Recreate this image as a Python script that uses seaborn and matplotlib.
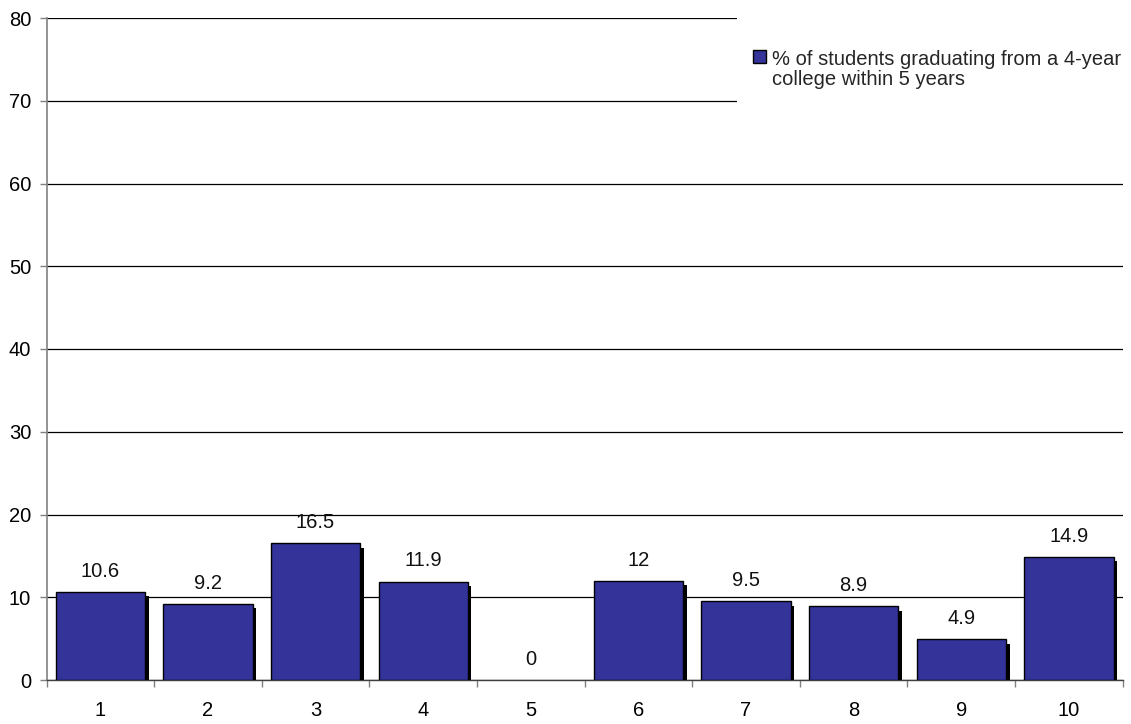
import numpy as np
import matplotlib
matplotlib.use("Agg")
import matplotlib.pyplot as plt
import matplotlib.patheffects as pe
from matplotlib.patches import Patch, Rectangle
from matplotlib.legend_handler import HandlerPatch
import seaborn as sns
import pandas as pd

# Data
categories = ["1", "2", "3", "4", "5", "6", "7", "8", "9", "10"]
values = [10.6, 9.2, 16.5, 11.9, 0, 12, 9.5, 8.9, 4.9, 14.9]
series_label = "% of students graduating from a 4-year\ncollege within 5 years"
y_ticks = [0, 10, 20, 30, 40, 50, 60, 70, 80]

sns.set_theme(style="white")
plt.rcParams["font.family"] = ["Liberation Sans", "DejaVu Sans"]

BAR = "#333399"
FS = 14.5

fig = plt.figure(figsize=(11.31, 7.24), dpi=100)
ax = fig.add_axes([46.5 / 1131, 1 - 680 / 724, (1122.7 - 46.5) / 1131, (680 - 18) / 724])

df = pd.DataFrame({"cat": categories, "val": values})
sns.barplot(data=df, x="cat", y="val", color=BAR, saturation=1, width=0.83,
            edgecolor="black", linewidth=1.0, ax=ax, zorder=3)

# drop shadow on every bar; empty bars get no outline
for bar, v in zip(ax.patches, values):
    if v == 0:
        bar.set_edgecolor("none")
        continue
    bar.set_path_effects([
        pe.SimplePatchShadow(offset=(2.6, -3.0), shadow_rgbFace="black", alpha=1.0),
        pe.Normal(),
    ])

# value labels above bars
ax.bar_label(ax.containers[0], labels=[f"{v:g}" for v in values],
             padding=8, fontsize=FS, color="#111111")

ax.set_ylim(0, 80)
ax.set_xlim(-0.5, len(categories) - 0.5)
ax.set_yticks(y_ticks)
ax.set_yticklabels([str(t) for t in y_ticks], fontsize=FS, color="black")

# tick marks between categories, labels at category centres
ax.set_xticks(np.arange(-0.5, len(categories), 1))
ax.set_xticklabels([])
ax.set_xticks(np.arange(len(categories)), minor=True)
ax.set_xticklabels(categories, minor=True, fontsize=FS, color="black")
ax.tick_params(axis="x", which="major", length=5, width=1, color="#808080", direction="out", bottom=True)
ax.tick_params(axis="x", which="minor", length=0, pad=15)
ax.tick_params(axis="y", length=5, width=1, color="#808080", direction="out", pad=6, left=True)

ax.set_xlabel("")
ax.set_ylabel("")

ax.yaxis.grid(True, color="black", linewidth=0.9)
ax.xaxis.grid(False)
ax.set_axisbelow(True)

for s in ["top", "right"]:
    ax.spines[s].set_visible(False)
ax.spines["left"].set_color("#808080")
ax.spines["left"].set_linewidth(1.2)
ax.spines["bottom"].set_color("#404040")
ax.spines["bottom"].set_linewidth(1.0)

# white legend area over the upper gridlines
x0 = (737 - 46.5) / (1122.7 - 46.5)
y0 = (680 - 108) / (680 - 18)
ax.add_patch(Rectangle((x0, y0), 1.05 - x0, 1.05 - y0, transform=ax.transAxes,
                       facecolor="white", edgecolor="none", zorder=2.5, clip_on=False))


def top_square(legend, orig_handle, xdescent, ydescent, width, height, fontsize):
    # square key aligned with the first line of the label
    side = width
    return Rectangle((-xdescent, -ydescent + height - side + 9.0), side, side)


handle = Patch(facecolor=BAR, edgecolor="black", linewidth=1.0)
leg = ax.legend([handle], [series_label], loc="upper left",
                bbox_to_anchor=((753 - 46.5) / (1122.7 - 46.5), (680 - 50) / (680 - 18)),
                frameon=False, fontsize=FS, handlelength=0.65, handleheight=0.72,
                handletextpad=0.3, borderpad=0, borderaxespad=0,
                handler_map={Patch: HandlerPatch(patch_func=top_square)})
for t in leg.get_texts():
    t.set_linespacing(1.05)

fig.savefig("out.png", dpi=100)
